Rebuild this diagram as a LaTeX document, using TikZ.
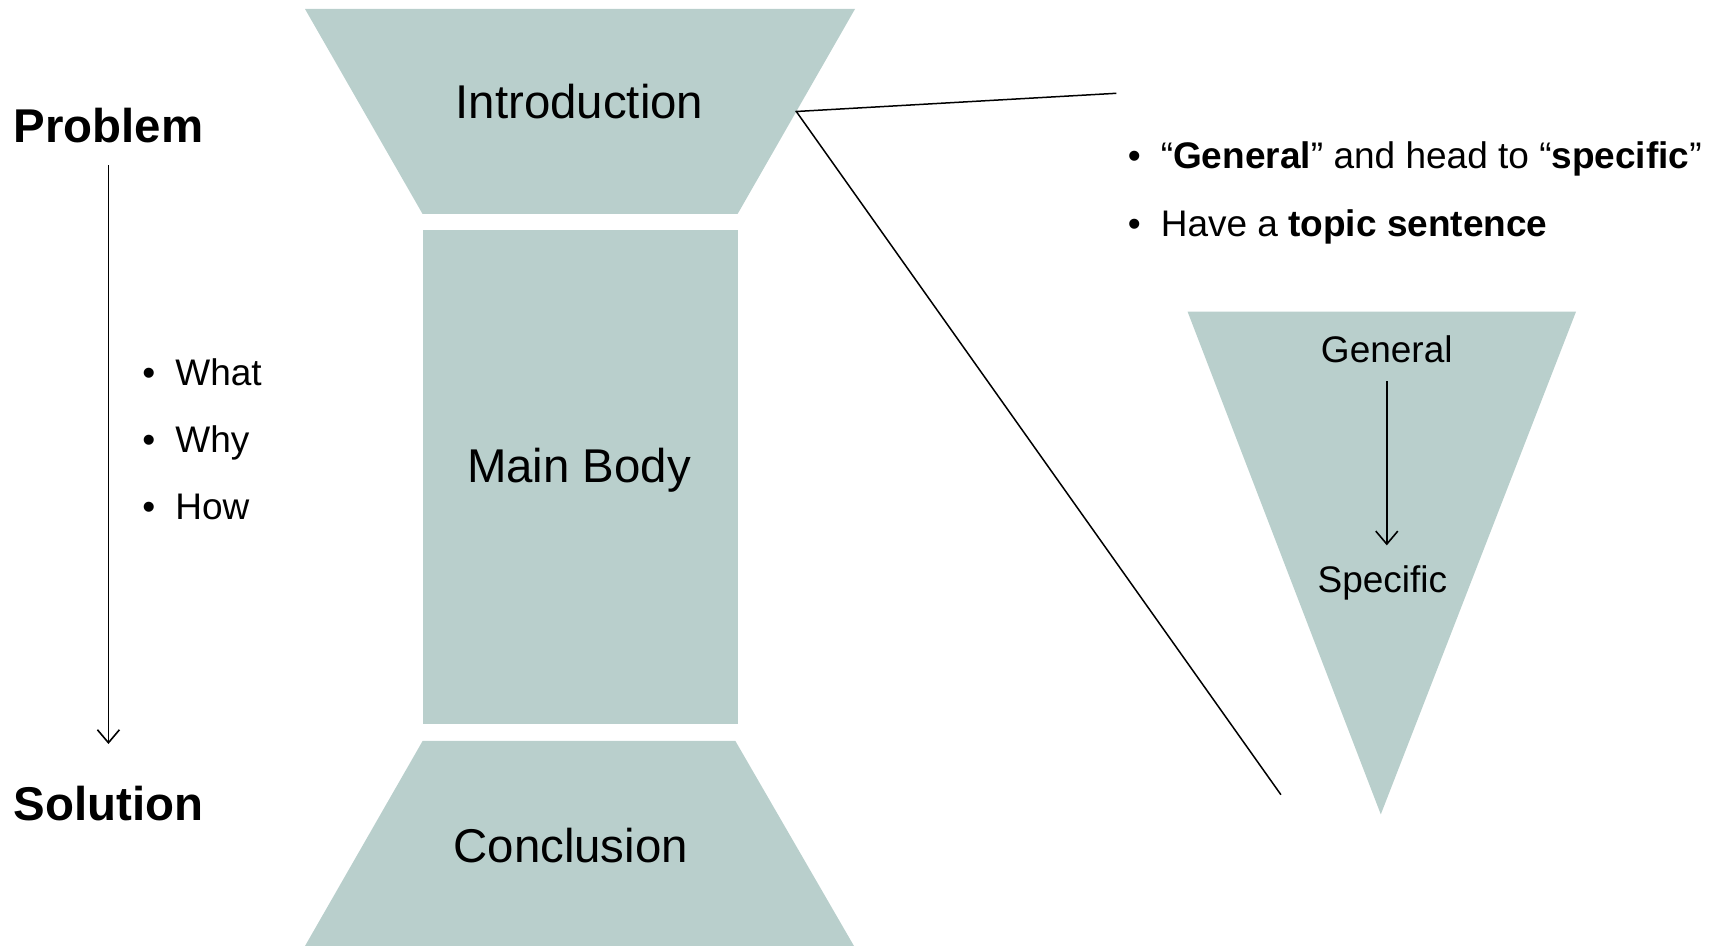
\documentclass[tikz,border=0pt]{standalone}
\usepackage{fontspec}
\setmainfont{Liberation Sans}
\usetikzlibrary{arrows.meta}
\usetikzlibrary{calc}
\definecolor{funnel}{HTML}{B9CFCC}
\newcommand{\bulletitem}[1]{\textbullet\hspace{10pt}#1}

\begin{document}
\begin{tikzpicture}[x=0.5pt, y=-0.5pt,
    part/.style={fill=funnel, draw=none},
    big/.style={font=\fontsize{23.7}{28}\selectfont, inner sep=0, text height=17pt, text depth=0pt},
    bigbold/.style={big, font=\fontsize{23.7}{28}\selectfont\bfseries, anchor=west},
    small/.style={font=\fontsize{18.5}{22}\selectfont, inner sep=0, text height=13.25pt, text depth=0pt},
    item/.style={small, anchor=west},
    flow/.style={-{Straight Barb[length=6.5pt, width=11pt]}, line width=0.8pt},
    zoomline/.style={line width=0.75pt}
  ]
  \useasboundingbox (0,0) rectangle (1721,946);

  % hourglass
  \fill[part] (305,9) -- (855,9) coordinate (IR) -- (737.6,214) coordinate (IBR) -- (422.6,214) -- cycle;
  \fill[part] (422.6,230.5) rectangle (737.6,724.4);
  \fill[part] (422.6,741) -- (735.4,741) -- (854,946) -- (305,946) -- cycle;
  \node[big] (intro) at (579.5,102) {Introduction};
  \node[big] (body) at (579,466) {Main Body};
  \node[big] (concl) at (570.7,846) {Conclusion};

  % problem -> solution
  \node[bigbold] (prob) at (13.2,125.1) {Problem};
  \node[bigbold] (sol) at (13.2,803.4) {Solution};
  \draw[flow, shorten <=11.3pt, shorten >=21pt] (prob.south) -- (prob.south |- sol.north);
  \node[item] (what) at (142,372.6) {\bulletitem{What}};
  \node[item] (why) at (142,439) {\bulletitem{Why}};
  \node[item] (how) at (142,506) {\bulletitem{How}};

  % zoom lines
  \coordinate (hinge) at ($(IR)!0.5!(IBR)$);
  \coordinate (zoomtop) at (1116.3,93.3);
  \coordinate (zoombot) at (1280.9,794.7);
  \draw[zoomline] (zoomtop) -- (hinge) -- (zoombot);

  \node[item] (tip1) at (1127.5,155.3) {\bulletitem{“\textbf{General}” and head to “\textbf{specific}”}};
  \node[item] (tip2) at (1127.5,222.8) {\bulletitem{Have a \textbf{topic sentence}}};

  % general -> specific
  \fill[part] (1187.6,311.7) -- (1576,311.7) -- (1380.8,814.4) -- cycle;
  \node[small] (gen) at (1386.8,349.6) {General};
  \node[small] (spec) at (1382.4,579) {Specific};
  \draw[flow, shorten <=9pt, shorten >=10pt] (gen.south) -- (gen.south |- spec.north);
\end{tikzpicture}
\end{document}
